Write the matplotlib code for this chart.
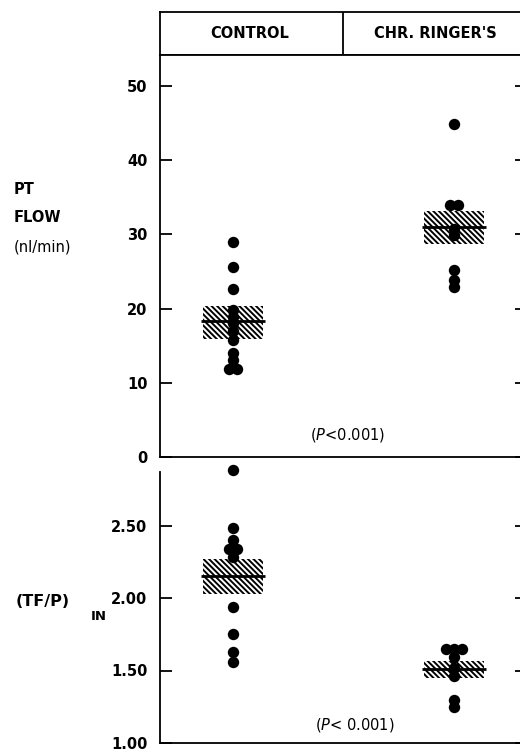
import matplotlib
matplotlib.use("Agg")
import matplotlib.pyplot as plt
import numpy as np

# groups
groups = ["CONTROL", "CHR. RINGER'S"]

# PT flow (nl/min), individual tubules
flow_control = [29.0, 25.6, 22.7, 19.8, 18.9, 18.0, 17.0, 15.8, 14.0, 13.1, 11.9, 11.9]
flow_ringer = [44.9, 34.0, 34.0, 30.8, 29.9, 25.2, 23.9, 22.9]
flow_mean = [18.3, 31.0]
flow_lo = [15.9, 28.7]
flow_hi = [20.3, 33.2]
flow_ticks = [0, 10, 20, 30, 40, 50]

# (TF/P)in, individual tubules
tf_control = [2.88, 2.48, 2.40, 2.34, 2.34, 2.28, 1.94, 1.75, 1.63, 1.56]
tf_ringer = [1.65, 1.65, 1.65, 1.59, 1.52, 1.46, 1.30, 1.25]
tf_mean = [2.15, 1.51]
tf_lo = [2.03, 1.445]
tf_hi = [2.27, 1.565]
tf_ticks = [1.00, 1.50, 2.00, 2.50]

plt.rcParams['hatch.linewidth'] = 1.4
plt.rcParams['font.family'] = ['DejaVu Sans']

W, H = 520, 752
fig = plt.figure(figsize=(W / 100, H / 100), dpi=100)


def px_axes(x0, y0, x1, y1):
    # pixel box (top-left origin) -> figure axes
    return fig.add_axes([x0 / W, 1 - y1 / H, (x1 - x0) / W, (y1 - y0) / H])


xpos = [0.2, 0.8]
box_w = 0.164


def swarm(vals, x, step=0.022):
    # spread equal values side by side
    xs = []
    vals = list(vals)
    for i, v in enumerate(vals):
        n = vals.count(v)
        k = vals[:i].count(v)
        xs.append(x + (k - (n - 1) / 2) * step)
    return xs


def panel(ax, data, mean, lo, hi, ticks, fmt):
    for i, x in enumerate(xpos):
        ax.bar(x, hi[i] - lo[i], bottom=lo[i], width=box_w, facecolor='white',
               edgecolor='black', linewidth=0, hatch='\\' * 6, zorder=1)
        ax.hlines(mean[i], x - box_w / 2 - 0.005, x + box_w / 2 + 0.005,
                  color='black', lw=2, zorder=2)
        ax.plot(swarm(data[i], x), data[i], 'o', color='black', ms=8.2,
                mec='none', zorder=3, clip_on=False)
    ax.set_xlim(0, 1)
    ax.set_xticks([])
    ax.set_yticks(ticks)
    ax.set_yticklabels([fmt.format(t) for t in ticks], fontsize=10.5,
                       fontweight='bold')
    ax.tick_params(axis='y', direction='in', length=8.6, width=1.3, pad=9,
                   left=True, right=True)
    for s in ax.spines.values():
        s.set_linewidth(1.3)


# header strip
axh = px_axes(160, 12, 527, 55)
axh.set_xlim(0, 1)
axh.set_ylim(0, 1)
axh.set_xticks([])
axh.set_yticks([])
for s in axh.spines.values():
    s.set_linewidth(1.3)
axh.axvline(0.499, color='black', lw=1.3)
axh.text(0.245, 0.5, groups[0], ha='center', va='center', fontsize=10.5,
         fontweight='bold')
axh.text(0.75, 0.5, groups[1], ha='center', va='center', fontsize=10.5,
         fontweight='bold')

# top panel: PT flow
ax1 = px_axes(160, 55, 527, 457)
panel(ax1, [flow_control, flow_ringer], flow_mean, flow_lo, flow_hi,
      flow_ticks, '{:d}')
ax1.set_ylim(0, 54.2)
ax1.text(0.51, 0.055, '($\\mathit{P}$<0.001)', transform=ax1.transAxes,
         ha='center', va='center', fontsize=10.5)

# bottom panel: (TF/P)in
ax2 = px_axes(160, 472, 527, 743)
panel(ax2, [tf_control, tf_ringer], tf_mean, tf_lo, tf_hi, tf_ticks,
      '{:.2f}')
ax2.set_ylim(1.0, 1.0 + 271 / 145)
ax2.spines['top'].set_visible(False)
ax2.text(0.53, 0.065, '($\\mathit{P}$< 0.001)', transform=ax2.transAxes,
         ha='center', va='center', fontsize=10.5)

# axis titles
fig.text(14 / W, 1 - 190 / H, 'PT', fontsize=10.5, fontweight='bold',
         va='center')
fig.text(14 / W, 1 - 218 / H, 'FLOW', fontsize=10.5, fontweight='bold',
         va='center')
fig.text(14 / W, 1 - 247 / H, '(nl/min)', fontsize=10.5, va='center')
fig.text(16 / W, 1 - 601 / H, '(TF/P)', fontsize=11.5, fontweight='bold',
         va='center')
fig.text(91 / W, 1 - 617 / H, 'IN', fontsize=9.5, fontweight='bold',
         va='center')

fig.savefig('out.png', dpi=100)
